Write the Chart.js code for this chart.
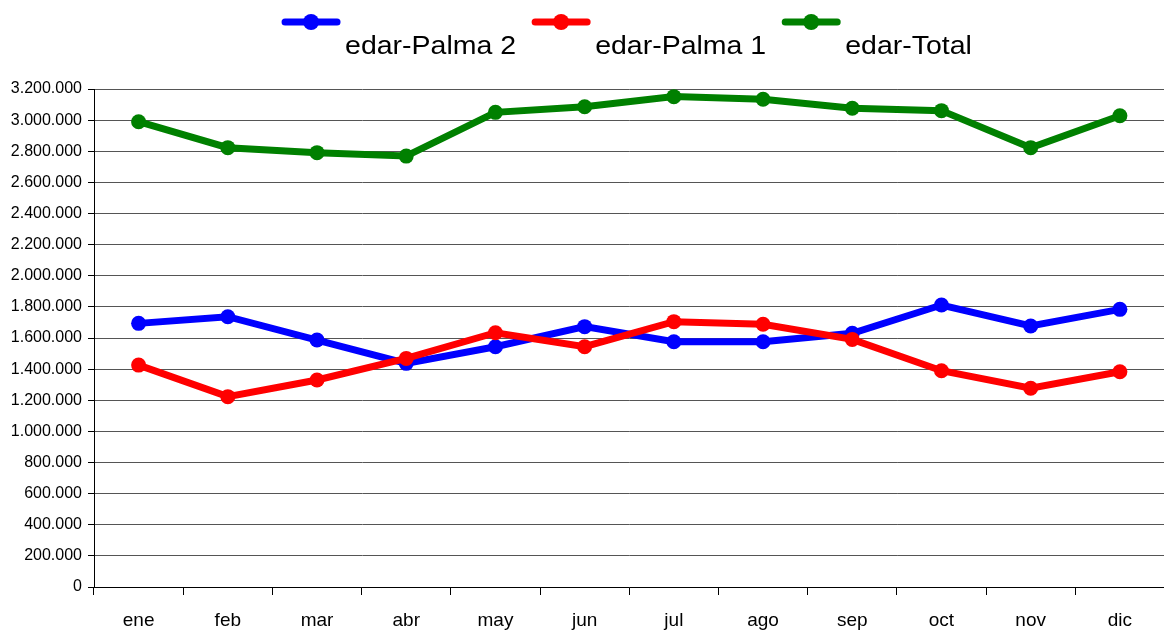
<!DOCTYPE html>
<html>
<head>
<meta charset="utf-8">
<script src="https://cdn.jsdelivr.net/npm/chart.js@4/dist/chart.umd.min.js"></script>
<style>
  body { margin: 0; background: #fff; overflow: hidden; }
  #wrap { width: 1164px; height: 630px; overflow: hidden; }
</style>
</head>
<body>
<div id="wrap"><canvas id="chart" width="1172" height="630"></canvas></div>
<script>
// months
const months = ['ene', 'feb', 'mar', 'abr', 'may', 'jun', 'jul', 'ago', 'sep', 'oct', 'nov', 'dic'];

// values
const palma2 = [1694000, 1737000, 1587000, 1437000, 1544000, 1673000, 1576000, 1576000, 1630000, 1812000, 1677000, 1784000];
const palma1 = [1426000, 1223000, 1330000, 1469000, 1634000, 1544000, 1705000, 1688000, 1591000, 1390000, 1277000, 1383000];
const total  = [2990000, 2823000, 2791000, 2769000, 3050000, 3086000, 3151000, 3134000, 3076000, 3061000, 2823000, 3028000];

const FONT = "'Liberation Sans', Arial, sans-serif";

function fmt(v) {
  return String(v).replace(/\B(?=(\d{3})+(?!\d))/g, '.');
}

// legend: line sample on top, label under it to the right
const topLegend = {
  id: 'topLegend',
  afterDraw(chart) {
    const ctx = chart.ctx;
    const sets = chart.data.datasets;
    const stretch = 1.14;
    ctx.save();
    ctx.font = '25px ' + FONT;
    const sampleW = 58, gap = 5, between = 16;
    let widths = sets.map(ds => sampleW + gap + ctx.measureText(ds.label).width * stretch);
    let totalW = widths.reduce((a, b) => a + b, 0) + between * (sets.length - 1);
    let x = 627 - totalW / 2;
    sets.forEach((ds, i) => {
      ctx.strokeStyle = ds.borderColor;
      ctx.fillStyle = ds.borderColor;
      ctx.lineWidth = 7;
      ctx.lineCap = 'round';
      ctx.beginPath();
      ctx.moveTo(x + 3, 22);
      ctx.lineTo(x + sampleW - 3, 22);
      ctx.stroke();
      ctx.beginPath();
      ctx.arc(x + sampleW / 2, 22, 8, 0, Math.PI * 2);
      ctx.fill();
      ctx.fillStyle = '#000';
      ctx.textBaseline = 'alphabetic';
      ctx.save();
      ctx.translate(x + sampleW + gap, 54);
      ctx.scale(stretch, 1);
      ctx.fillText(ds.label, 0, 0);
      ctx.restore();
      x += widths[i] + between;
    });
    ctx.restore();
  }
};

new Chart(document.getElementById('chart'), {
  type: 'line',
  data: {
    labels: months,
    datasets: [
      { label: 'edar-Palma 2', data: palma2, borderColor: '#0000ff', backgroundColor: '#0000ff', order: 3 },
      { label: 'edar-Palma 1', data: palma1, borderColor: '#ff0000', backgroundColor: '#ff0000', order: 2 },
      { label: 'edar-Total', data: total, borderColor: '#008000', backgroundColor: '#008000', order: 1 }
    ]
  },
  options: {
    responsive: false,
    animation: false,
    layout: { padding: { top: 89, right: 2, left: 0, bottom: 0 } },
    elements: {
      line: { borderWidth: 7, tension: 0 },
      point: { radius: 7.5, borderWidth: 0, hoverRadius: 7.5 }
    },
    plugins: {
      legend: { display: false },
      tooltip: { enabled: false }
    },
    scales: {
      x: {
        offset: true,
        grid: {
          offset: true,
          drawOnChartArea: false,
          drawTicks: true,
          tickLength: 8,
          tickColor: '#000'
        },
        border: { color: '#000', width: 1 },
        ticks: { color: '#000', font: { family: FONT, size: 19 }, padding: 14, maxRotation: 0 },
        afterFit(scale) { scale.height = 43; }
      },
      y: {
        min: 0,
        max: 3200000,
        grid: {
          color: '#555',
          lineWidth: 1,
          borderDash: [1, 1],
          tickLength: 6,
          tickColor: '#000',
          tickBorderDash: []
        },
        border: { color: '#000', width: 1 },
        ticks: {
          stepSize: 200000,
          color: '#000',
          font: { family: FONT, size: 16 },
          padding: 6,
          callback: v => fmt(v)
        },
        afterFit(scale) { scale.width = 94; }
      }
    }
  },
  plugins: [topLegend]
});
</script>
</body>
</html>
